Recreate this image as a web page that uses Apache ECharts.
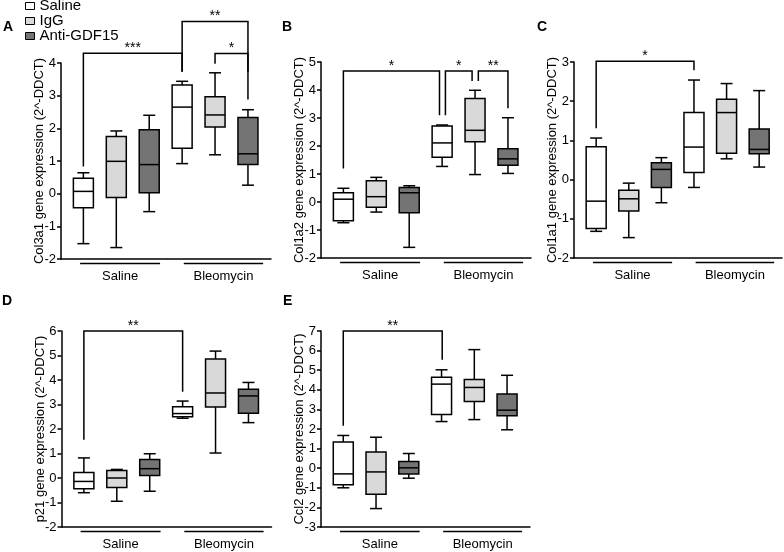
<!DOCTYPE html>
<html>
<head>
<meta charset="utf-8">
<script src="https://cdn.jsdelivr.net/npm/echarts@6/dist/echarts.min.js"></script>
<style>html,body{margin:0;padding:0;background:#fff}#c{width:784px;height:552px}</style>
</head>
<body>
<div id="c"></div>
<script>
// ---- data ----
const treatments = ['Saline', 'IgG', 'Anti-GDF15'];
const groupLabels = ['Saline', 'Bleomycin'];
const groupSpans = [[-0.1, 2.33], [3.05, 5.46]];
// boxes: [min, Q1, median, Q3, max], order: Saline/IgG/Anti (saline group), Saline/IgG/Anti (bleomycin group)
const col3a1Boxes = [
  [-1.53, -0.43, 0.07, 0.47, 0.64],
  [-1.65, -0.12, 0.99, 1.75, 1.92],
  [-0.55, 0.03, 0.89, 1.96, 2.40],
  [0.92, 1.39, 2.65, 3.33, 3.44],
  [1.19, 2.04, 2.41, 2.97, 3.70],
  [0.26, 0.89, 1.22, 2.33, 2.57]
];
const col1a2Boxes = [
  [-0.74, -0.67, 0.10, 0.33, 0.49],
  [-0.36, -0.19, 0.19, 0.76, 0.88],
  [-1.62, -0.38, 0.33, 0.52, 0.58],
  [1.27, 1.60, 2.11, 2.71, 2.75],
  [0.98, 2.15, 2.56, 3.70, 3.99],
  [1.02, 1.31, 1.54, 1.90, 3.01]
];
const col1a1Boxes = [
  [-1.32, -1.25, -0.55, 0.84, 1.06],
  [-1.48, -0.80, -0.49, -0.27, -0.09],
  [-0.59, -0.20, 0.26, 0.43, 0.56],
  [-0.20, 0.18, 0.83, 1.71, 2.54],
  [0.53, 0.67, 1.71, 2.05, 2.45],
  [0.32, 0.66, 0.77, 1.29, 2.27]
];
const p21Boxes = [
  [-0.60, -0.44, -0.14, 0.22, 0.82],
  [-0.95, -0.39, 0.00, 0.31, 0.35],
  [-0.54, 0.10, 0.38, 0.76, 0.99],
  [2.44, 2.50, 2.63, 2.91, 3.14],
  [1.02, 2.90, 3.47, 4.86, 5.18],
  [2.26, 2.64, 3.35, 3.62, 3.90]
];
const ccl2Boxes = [
  [-1.00, -0.85, -0.29, 1.34, 1.67],
  [-2.06, -1.33, -0.19, 0.83, 1.58],
  [-0.51, -0.29, 0.02, 0.34, 0.75],
  [2.38, 2.74, 4.29, 4.64, 5.02],
  [2.48, 3.40, 4.12, 4.52, 6.05],
  [1.96, 2.67, 2.96, 3.78, 4.74]
];
// significance brackets: [x1, x2, top, leftEnd, rightEnd]
const col3a1Brackets = [[0, 3, 4.30, 0.83, 3.73], [3, 5, 5.27, 3.73, 3.73], [4, 5, 4.29, 3.98, 2.88]];
const col3a1Stars = ['***', '**', '*'];
const col1a2Brackets = [[0, 2.92, 4.68, 1.2, 3.1], [3.1, 3.91, 4.68, 3.1, 4.32], [4.1, 5, 4.68, 4.32, 3.35]];
const col1a2Stars = ['*', '*', '**'];
const col1a1Brackets = [[0, 3, 3.02, 1.31, 2.79]];
const col1a1Stars = ['*'];
const p21Brackets = [[0, 3, 6, 1.56, 3.52]];
const p21Stars = ['**'];
const ccl2Brackets = [[0, 3.02, 7, 2.16, 5.53]];
const ccl2Stars = ['**'];
// y axis ranges
const col3a1Range = [-2, 4];
const col1a2Range = [-2, 5];
const col1a1Range = [-2, 3];
const p21Range = [-2, 6];
const ccl2Range = [-3, 7];

// ---- styles / layout ----
const FONT = 'Arial, "Liberation Sans", Helvetica, sans-serif';
const fills = ['#ffffff', '#d9d9d9', '#747474'];
const LW = 1.5;
const panels = [
  {letter: 'A', lx: 3, ly: 20.5, boxes: col3a1Boxes, br: col3a1Brackets, stars: col3a1Stars, range: col3a1Range, name: 'Col3a1 gene expression (2^-DDCT)', grid: {left: 61, top: 63, width: 210, height: 196}},
  {letter: 'B', lx: 282, ly: 20.5, boxes: col1a2Boxes, br: col1a2Brackets, stars: col1a2Stars, range: col1a2Range, name: 'Col1a2 gene expression (2^-DDCT)', grid: {left: 321, top: 62, width: 210, height: 196}},
  {letter: 'C', lx: 537, ly: 20.5, boxes: col1a1Boxes, br: col1a1Brackets, stars: col1a1Stars, range: col1a1Range, name: 'Col1a1 gene expression (2^-DDCT)', grid: {left: 574, top: 62, width: 208, height: 196}},
  {letter: 'D', lx: 2, ly: 294.5, boxes: p21Boxes, br: p21Brackets, stars: p21Stars, range: p21Range, name: 'p21 gene expression (2^-DDCT)', grid: {left: 61.5, top: 331, width: 210, height: 196}},
  {letter: 'E', lx: 283, ly: 294.5, boxes: ccl2Boxes, br: ccl2Brackets, stars: ccl2Stars, range: ccl2Range, name: 'Ccl2 gene expression (2^-DDCT)', grid: {left: 321, top: 331, width: 209, height: 196}}
];

function boxRenderer(color) {
  return function (params, api) {
    const x = api.value(0);
    const lo = api.coord([x, api.value(1)]);
    const q1 = api.coord([x, api.value(2)]);
    const md = api.coord([x, api.value(3)]);
    const q3 = api.coord([x, api.value(4)]);
    const hi = api.coord([x, api.value(5)]);
    const cx = lo[0], hw = 10, cw = 6;
    const st = {stroke: '#000', lineWidth: LW, fill: null};
    return {type: 'group', children: [
      {type: 'line', shape: {x1: cx, y1: hi[1], x2: cx, y2: q3[1]}, style: st},
      {type: 'line', shape: {x1: cx - cw, y1: hi[1], x2: cx + cw, y2: hi[1]}, style: st},
      {type: 'line', shape: {x1: cx, y1: q1[1], x2: cx, y2: lo[1]}, style: st},
      {type: 'line', shape: {x1: cx - cw, y1: lo[1], x2: cx + cw, y2: lo[1]}, style: st},
      {type: 'rect', shape: {x: cx - hw, y: q3[1], width: 2 * hw, height: q1[1] - q3[1]}, style: {fill: color, stroke: '#000', lineWidth: LW}},
      {type: 'line', shape: {x1: cx - hw, y1: md[1], x2: cx + hw, y2: md[1]}, style: st}
    ]};
  };
}

function bracketRenderer(stars) {
  return function (params, api) {
    const x1 = api.value(0), x2 = api.value(1);
    const top = api.value(2), le = api.value(3), re = api.value(4);
    const a = api.coord([x1, le]), b = api.coord([x1, top]), c = api.coord([x2, top]), d = api.coord([x2, re]);
    return {type: 'group', children: [
      {type: 'polyline', shape: {points: [a, b, c, d]}, style: {stroke: '#000', lineWidth: LW, fill: null}},
      {type: 'text', x: (b[0] + c[0]) / 2, y: b[1] + 2, style: {text: stars[params.dataIndex], font: '14px ' + FONT, fill: '#000', align: 'center', verticalAlign: 'bottom', textAlign: 'center', textVerticalAlign: 'bottom'}}
    ]};
  };
}

function groupRenderer(params, api) {
  const cs = params.coordSys;
  const bottom = cs.y + cs.height;
  const p1 = api.coord([api.value(0), 0]);
  const p2 = api.coord([api.value(1), 0]);
  return {type: 'group', children: [
    {type: 'line', shape: {x1: p1[0], y1: bottom + 4.5, x2: p2[0], y2: bottom + 4.5}, style: {stroke: '#000', lineWidth: 1.6}},
    {type: 'text', x: (p1[0] + p2[0]) / 2, y: bottom + 17.5, style: {text: groupLabels[params.dataIndex], font: '13px ' + FONT, fill: '#000', align: 'center', verticalAlign: 'middle', textAlign: 'center', textVerticalAlign: 'middle'}}
  ]};
}

const grids = [], xAxes = [], yAxes = [], series = [], graphics = [];
panels.forEach(function (p, i) {
  grids.push(p.grid);
  xAxes.push({type: 'value', gridIndex: i, min: -0.68, max: 5.7, axisLine: {show: true, onZero: false, lineStyle: {color: '#000', width: LW}}, axisTick: {show: false}, axisLabel: {show: false}, splitLine: {show: false}});
  yAxes.push({type: 'value', gridIndex: i, min: p.range[0], max: p.range[1], interval: 1,
    name: p.name, nameLocation: 'middle', nameGap: 15, nameMoveOverlap: false,
    nameTextStyle: {fontSize: 13, color: '#000', fontFamily: FONT},
    axisLine: {show: true, onZero: false, lineStyle: {color: '#000', width: LW}},
    axisTick: {show: true, length: 4, lineStyle: {color: '#000', width: LW}},
    axisLabel: {color: '#000', fontSize: 13, fontFamily: FONT, margin: 5},
    splitLine: {show: false}});
  treatments.forEach(function (t, ti) {
    series.push({type: 'custom', name: t, xAxisIndex: i, yAxisIndex: i, renderItem: boxRenderer(fills[ti]),
      encode: {x: 0, y: [1, 2, 3, 4, 5]},
      data: [[ti].concat(p.boxes[ti]), [ti + 3].concat(p.boxes[ti + 3])], silent: true, z: 3});
  });
  series.push({type: 'custom', xAxisIndex: i, yAxisIndex: i, renderItem: bracketRenderer(p.stars), encode: {x: [0, 1], y: [2, 3, 4]}, data: p.br, silent: true, z: 4});
  series.push({type: 'custom', xAxisIndex: i, yAxisIndex: i, renderItem: groupRenderer, encode: {x: [0, 1]}, data: groupSpans, silent: true, z: 4});
  graphics.push({type: 'text', left: p.lx, top: p.ly, style: {text: p.letter, font: 'bold 14px ' + FONT, fill: '#000'}});
});

const chart = echarts.init(document.getElementById('c'), null, {renderer: 'canvas'});
chart.setOption({
  backgroundColor: '#fff',
  animation: false,
  grid: grids,
  xAxis: xAxes,
  yAxis: yAxes,
  legend: {
    orient: 'vertical', left: 25, top: -1.5, padding: 0, itemGap: 0, icon: 'rect', itemWidth: 9, itemHeight: 7,
    selectedMode: false,
    textStyle: {fontSize: 15, fontFamily: FONT, color: '#000', lineHeight: 13.5},
    data: treatments.map(function (t, ti) { return {name: t, itemStyle: {color: fills[ti], borderColor: '#000', borderWidth: 1}}; })
  },
  graphic: graphics,
  series: series
});
</script>
</body>
</html>
